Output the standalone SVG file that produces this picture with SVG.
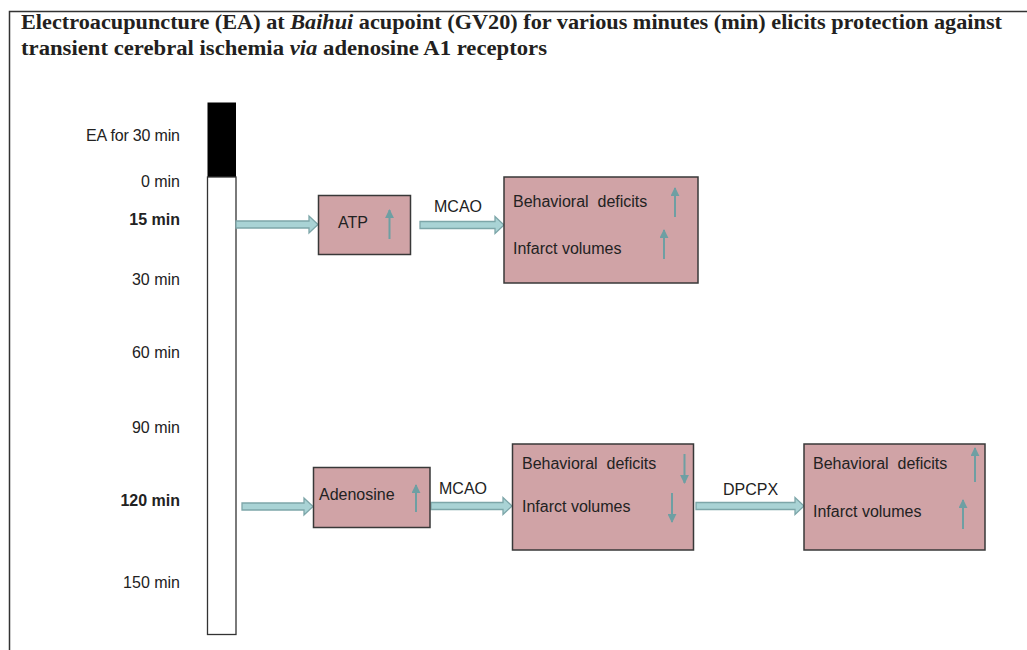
<svg xmlns="http://www.w3.org/2000/svg" width="1027" height="650" viewBox="0 0 1027 650">
<defs>
<style>
.title{font-family:"Liberation Serif","Times New Roman",serif;font-weight:bold;font-size:20px;fill:#231f20}
.lbl{font-family:"Liberation Sans",Arial,sans-serif;font-size:16px;fill:#222;white-space:pre}
.b{font-weight:bold}
.box{fill:#d0a3a6;stroke:#383838;stroke-width:1.5}
.blk{fill:#a9d3d5;stroke:#7da6a9;stroke-width:1.3}
.ind{stroke:#6e9fa3;stroke-width:2;fill:none}
</style>
<marker id="ah" viewBox="0 0 10 10" refX="9" refY="5" markerWidth="4.5" markerHeight="4.5" orient="auto" markerUnits="strokeWidth">
<path d="M0,0 L10,5 L0,10 Z" fill="#6e9fa3"/>
</marker>
</defs>
<rect width="1027" height="650" fill="#fff"/>
<path d="M9.5,650 V11.5 H1027" fill="none" stroke="#333" stroke-width="1.5"/>
<g id="title">
<text class="title" x="21" y="29" textLength="981" lengthAdjust="spacingAndGlyphs">Electroacupuncture (EA) at <tspan font-style="italic">Baihui</tspan> acupoint (GV20) for various minutes (min) elicits protection against</text>
<text class="title" x="21" y="55" textLength="526" lengthAdjust="spacingAndGlyphs">transient cerebral ischemia <tspan font-style="italic">via</tspan> adenosine A1 receptors</text>
</g>
<g id="timeline">
<rect x="208" y="103" width="27.5" height="74" fill="#000" stroke="#000" stroke-width="1"/>
<rect x="207.5" y="177" width="28.5" height="457.5" fill="#fff" stroke="#333" stroke-width="1.3"/>
<g class="lbl" text-anchor="end">
<text x="180" y="141" textLength="94">EA for 30 min</text>
<text x="180" y="187">0 min</text>
<text x="180" y="225" class="b">15 min</text>
<text x="180" y="285">30 min</text>
<text x="180" y="358">60 min</text>
<text x="180" y="433">90 min</text>
<text x="180" y="506" class="b">120 min</text>
<text x="180" y="588">150 min</text>
</g>
</g>
<g id="connectors">
<path class="blk" d="M236,221 H309 V216 L318,224.5 L309,233 V228 H236 Z"/>
<path class="blk" d="M420,221.5 H495 V216.5 L504,225 L495,233.5 V228.5 H420 Z"/>
<path class="blk" d="M242,503 H304 V498 L313,506.5 L304,515 V510 H242 Z"/>
<path class="blk" d="M431,502.5 H503 V497.5 L512,506 L503,514.5 V509.5 H431 Z"/>
<path class="blk" d="M696,502.5 H795 V497.5 L804,506 L795,514.5 V509.5 H696 Z"/>
<text class="lbl" x="434" y="212">MCAO</text>
<text class="lbl" x="439" y="494">MCAO</text>
<text class="lbl" x="723" y="495">DPCPX</text>
</g>
<g id="atp">
<rect class="box" x="318.5" y="195.5" width="92" height="59"/>
<text class="lbl" x="338" y="228">ATP</text>
<line class="ind" x1="389.5" y1="239" x2="389.5" y2="210" marker-end="url(#ah)"/>
</g>
<g id="result1">
<rect class="box" x="504" y="177" width="194" height="106"/>
<text class="lbl" x="513" y="207">Behavioral  deficits</text>
<text class="lbl" x="513" y="254">Infarct volumes</text>
<line class="ind" x1="675" y1="217" x2="675" y2="188" marker-end="url(#ah)"/>
<line class="ind" x1="664" y1="259" x2="664" y2="230" marker-end="url(#ah)"/>
</g>
<g id="adenosine">
<rect class="box" x="313.5" y="467.5" width="116.5" height="60"/>
<text class="lbl" x="319" y="500">Adenosine</text>
<line class="ind" x1="416" y1="512" x2="416" y2="485" marker-end="url(#ah)"/>
</g>
<g id="result2">
<rect class="box" x="512.5" y="444" width="181" height="106"/>
<text class="lbl" x="522" y="469">Behavioral  deficits</text>
<text class="lbl" x="522" y="512">Infarct volumes</text>
<line class="ind" x1="684.5" y1="454" x2="684.5" y2="483" marker-end="url(#ah)"/>
<line class="ind" x1="672" y1="493" x2="672" y2="522" marker-end="url(#ah)"/>
</g>
<g id="result3">
<rect class="box" x="804" y="444" width="181" height="106"/>
<text class="lbl" x="813" y="469">Behavioral  deficits</text>
<text class="lbl" x="813" y="517">Infarct volumes</text>
<line class="ind" x1="975" y1="482" x2="975" y2="448" marker-end="url(#ah)"/>
<line class="ind" x1="963" y1="529" x2="963" y2="500" marker-end="url(#ah)"/>
</g>
</svg>
